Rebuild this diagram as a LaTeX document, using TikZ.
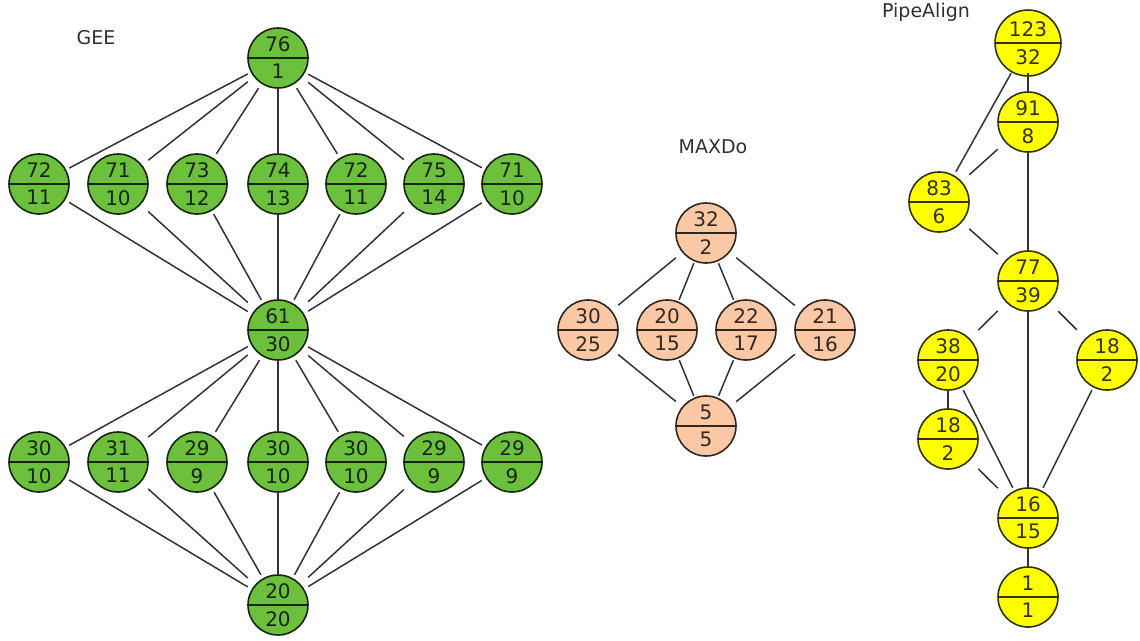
\documentclass[tikz,border=0pt]{standalone}
\usepackage{fontspec}
\setmainfont{DejaVu Sans}
\usetikzlibrary{shapes.multipart}
\definecolor{gee}{HTML}{6CC03C}
\definecolor{mxd}{HTML}{FAC8A5}
\definecolor{pip}{HTML}{FFFF00}
\definecolor{edgec}{HTML}{333333}
\definecolor{labc}{HTML}{303030}
\tikzset{
  sq/.style={rectangle, minimum size=60pt, inner sep=0pt, draw=none},
  vc/.style={circle split, minimum size=60pt, inner xsep=0pt, inner ysep=5.5pt,
    line width=1.6pt, font=\fontsize{20}{22}\selectfont},
  conn/.style={draw=edgec, line width=1.5pt},
  title/.style={text=labc, font=\fontsize{19}{21}\selectfont}
}
\newcommand\vx[5]{%
  \node[sq] (#1) at (#2) {};
  \node[vc, fill=#5, draw=#5!20!black, text=#5!20!black] (#1c) at (#2) {#3\nodepart{lower}#4};
}
\begin{document}
\begin{tikzpicture}[x=1pt,y=-1pt]
\useasboundingbox (0,0) rectangle (1140,640);
% titles
\node[title] (tgee) at (96,38) {GEE};
\node[title] (tmax) at (713,147) {MAXDo};
\node[title] (tpip) at (926,12) {PipeAlign};
% GEE
\vx{g0}{278,58}{76}{1}{gee}
\vx{a1}{39,184}{72}{11}{gee}
\vx{a2}{118,184}{71}{10}{gee}
\vx{a3}{197,184}{73}{12}{gee}
\vx{a4}{278,184}{74}{13}{gee}
\vx{a5}{356,184}{72}{11}{gee}
\vx{a6}{434,184}{75}{14}{gee}
\vx{a7}{512,184}{71}{10}{gee}
\vx{gm}{278,330}{61}{30}{gee}
\vx{b1}{39,462}{30}{10}{gee}
\vx{b2}{118,462}{31}{11}{gee}
\vx{b3}{197,462}{29}{9}{gee}
\vx{b4}{278,462}{30}{10}{gee}
\vx{b5}{356,462}{30}{10}{gee}
\vx{b6}{434,462}{29}{9}{gee}
\vx{b7}{512,462}{29}{9}{gee}
\vx{gb}{278,605}{20}{20}{gee}
\foreach \i in {1,...,7}{
  \draw[conn] (g0) -- (a\i);
  \draw[conn] (a\i) -- (gm);
  \draw[conn] (gm) -- (b\i);
  \draw[conn] (b\i) -- (gb);
}
% MAXDo
\vx{m0}{706,233}{32}{2}{mxd}
\vx{m1}{588,330}{30}{25}{mxd}
\vx{m2}{667,330}{20}{15}{mxd}
\vx{m3}{746,330}{22}{17}{mxd}
\vx{m4}{825,330}{21}{16}{mxd}
\vx{m5}{706,426}{5}{5}{mxd}
\foreach \i in {1,...,4}{
  \draw[conn] (m0) -- (m\i);
  \draw[conn] (m\i) -- (m5);
}
% PipeAlign
\vx{p1}{1028,43}{123}{32}{pip}
\vx{p2}{1028,122}{91}{8}{pip}
\vx{p3}{939,202}{83}{6}{pip}
\vx{p4}{1028,281}{77}{39}{pip}
\vx{p5}{948,360}{38}{20}{pip}
\vx{p6}{1107,360}{18}{2}{pip}
\vx{p7}{948,439}{18}{2}{pip}
\vx{p8}{1028,518}{16}{15}{pip}
\vx{p9}{1028,597}{1}{1}{pip}
\draw[conn] (p1) -- (p2);
\draw[conn] (p1) -- (p3);
\draw[conn] (p2) -- (p3);
\draw[conn] (p2) -- (p4);
\draw[conn] (p3) -- (p4);
\draw[conn] (p4) -- (p5);
\draw[conn] (p4) -- (p6);
\draw[conn] (p4) -- (p8);
\draw[conn] (p5) -- (p7);
\draw[conn] (p5) -- (p8);
\draw[conn] (p7) -- (p8);
\draw[conn] (p6) -- (p8);
\draw[conn] (p8) -- (p9);
\end{tikzpicture}
\end{document}
